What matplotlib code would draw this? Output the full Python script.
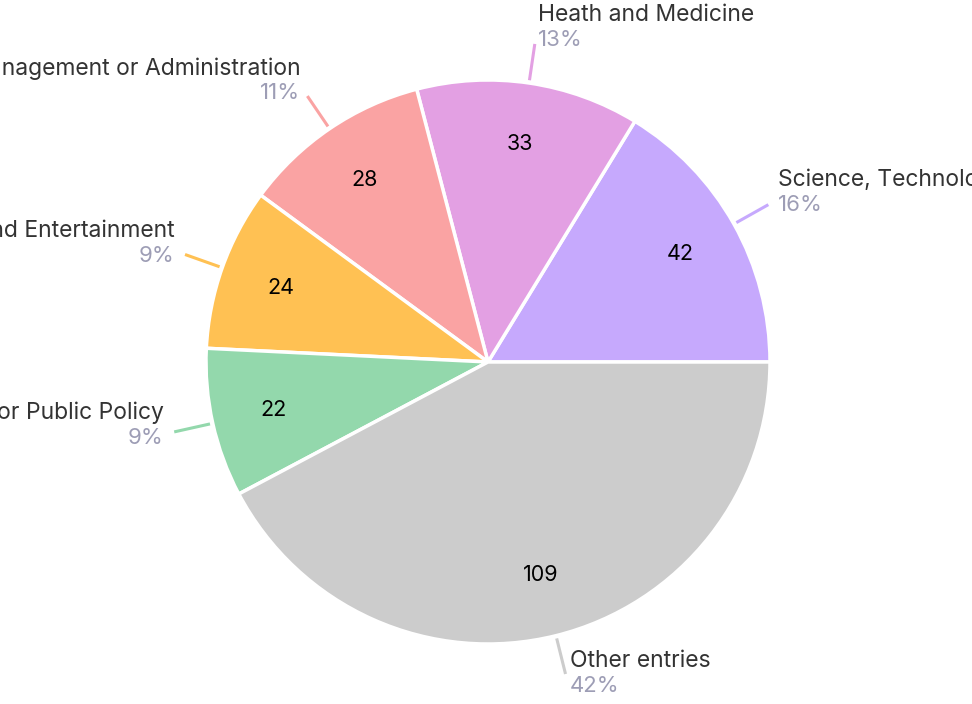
import numpy as np
import matplotlib
matplotlib.use("Agg")
import matplotlib.pyplot as plt

# Entries per field
categories = [
    "Science, Technology, Engineering and Math",
    "Heath and Medicine",
    "Business, Management or Administration",
    "Arts and Entertainment",
    "Law or Public Policy",
    "Other entries",
]
counts = [42, 33, 28, 24, 22, 109]
colors = ["#c6a9fd", "#e3a0e3", "#faa3a3", "#ffc153", "#93d8ac", "#cccccc"]

plt.rcParams["font.family"] = ["Inter", "DejaVu Sans"]

W, H, DPI = 972, 704, 100
fig = plt.figure(figsize=(W / DPI, H / DPI), dpi=DPI)
ax = fig.add_axes([0, 0, 1, 1])
ax.set_axis_off()

# pie geometry in pixels
cx, cy, R = 488, 362, 282

total = sum(counts)
wedges, _, autotexts = ax.pie(
    counts,
    colors=colors,
    startangle=0,
    counterclock=True,
    radius=1.0,
    autopct=lambda p: f"{round(p * total / 100)}",
    pctdistance=0.78,
    wedgeprops=dict(edgecolor="white", linewidth=2.5),
    textprops=dict(fontsize=15.5, color="black"),
    frame=False,
)
ax.set_xlim(-cx / R, (W - cx) / R)
ax.set_ylim(-(H - cy) / R, cy / R)
ax.set_aspect("auto")

for w, name, n, col in zip(wedges, categories, counts, colors):
    mid = np.deg2rad((w.theta1 + w.theta2) / 2)
    c, s = np.cos(mid), np.sin(mid)
    r0, r1 = 1.01, 1.14
    ax.plot([r0 * c, r1 * c], [r0 * s, r1 * s], color=col, lw=2.2,
            solid_capstyle="butt", clip_on=False)
    ex, ey = r1 * c, r1 * s
    gap = (9 * abs(c) + 2) / R
    ha = "left" if c >= 0 else "right"
    tx = ex + gap if c >= 0 else ex - gap
    py = ey + (8 * s - 4) / R
    ax.text(tx, py, f"{100 * n / total:.0f}%", ha=ha, va="center",
            fontsize=16, color="#9d9db5")
    ax.text(tx, py + 25 / R, name, ha=ha, va="center",
            fontsize=16.5, color="#333333")

fig.savefig("out.png", dpi=DPI)
